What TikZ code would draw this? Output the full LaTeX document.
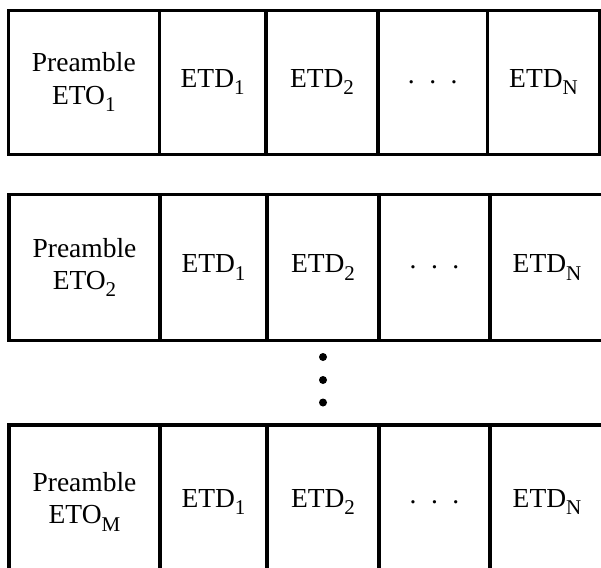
\documentclass[tikz,border=0pt]{standalone}
\usepackage{fontspec}
\setmainfont{Liberation Serif}
\newcommand{\lsub}[1]{\raisebox{-0.27em}{\fontsize{21}{21}\selectfont #1}}
\newcommand{\hdots}{.\hspace{0.53em}.\hspace{0.53em}.}
\begin{document}
\begin{tikzpicture}[x=1pt,y=-1pt,
  cell/.style={draw, line width=3.2pt, inner sep=0pt, outer sep=0pt, anchor=north west,
    font=\fontsize{27.5}{32.3}\selectfont, align=center},
  vdot/.style={circle, fill=black, inner sep=0pt, minimum size=8pt}]
\useasboundingbox (0,0) rectangle (601,567);
\clip (0,0) rectangle (601,567);
% row 1
\node[cell, minimum width=151pt, minimum height=144.1pt] (a0) at (8.3,10.2) {Preamble\\ETO\lsub{1}};
\node[cell, minimum width=106.7pt, minimum height=144.1pt] (a1) at (159.3,10.2) {ETD\lsub{1}};
\node[cell, minimum width=112pt, minimum height=144.1pt] (a2) at (266,10.2) {ETD\lsub{2}};
\node[cell, minimum width=109.5pt, minimum height=144.1pt] (a3) at (378,10.2) {\hdots};
\node[cell, minimum width=112pt, minimum height=144.1pt] (a4) at (487.5,10.2) {ETD\lsub{N}};
% row 2
\node[cell, minimum width=151pt, minimum height=146pt] (b0) at (9,194.5) {Preamble\\ETO\lsub{2}};
\node[cell, minimum width=107pt, minimum height=146pt] (b1) at (160,194.5) {ETD\lsub{1}};
\node[cell, minimum width=112pt, minimum height=146pt] (b2) at (267,194.5) {ETD\lsub{2}};
\node[cell, minimum width=111pt, minimum height=146pt] (b3) at (379,194.5) {\hdots};
\node[cell, minimum width=114pt, minimum height=146pt] (b4) at (490,194.5) {ETD\lsub{N}};
% vertical dots
\node[vdot] (d1) at (323,357) {};
\node[vdot] (d2) at (323,380) {};
\node[vdot] (d3) at (323,402.5) {};
% row 3
\node[cell, minimum width=151pt, minimum height=154pt] (c0) at (9,425) {Preamble\\ETO\lsub{M}};
\node[cell, minimum width=107pt, minimum height=154pt] (c1) at (160,425) {ETD\lsub{1}};
\node[cell, minimum width=112pt, minimum height=154pt] (c2) at (267,425) {ETD\lsub{2}};
\node[cell, minimum width=111pt, minimum height=154pt] (c3) at (379,425) {\hdots};
\node[cell, minimum width=114pt, minimum height=154pt] (c4) at (490,425) {ETD\lsub{N}};
\end{tikzpicture}
\end{document}
